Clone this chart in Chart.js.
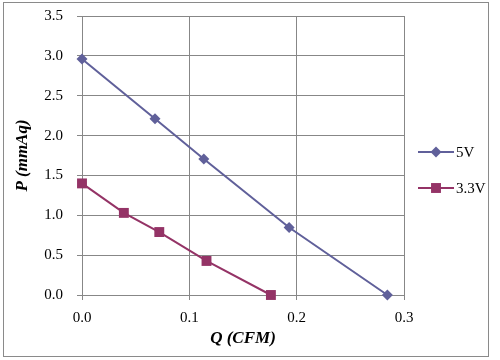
<!DOCTYPE html>
<html>
<head>
<meta charset="utf-8">
<script src="https://cdn.jsdelivr.net/npm/chart.js@4/dist/chart.umd.min.js"></script>
<style>
html,body{margin:0;padding:0;background:#fff;}
#wrap{position:absolute;left:0;top:0;width:500px;height:360px;}
</style>
</head>
<body>
<div id="wrap"><canvas id="c" width="500" height="360"></canvas></div>
<script>
// Data
const seriesNames = ["5V", "3.3V"];
const q5V  = [0, 0.068, 0.1135, 0.193, 0.2845];
const p5V  = [2.96, 2.21, 1.705, 0.846, 0];
const q33V = [0, 0.039, 0.072, 0.116, 0.176];
const p33V = [1.40, 1.03, 0.79, 0.427, 0];
const xTickValues = [0, 0.1, 0.2, 0.3];
const yTickValues = [0, 0.5, 1.0, 1.5, 2.0, 2.5, 3.0, 3.5];
const xTitle = "Q (CFM)";
const yTitle = "P (mmAq)";

const colors = ["#60609a", "#943366"];
const markers = ["rectRot", "rect"];
const markerRadius = [5.5, 7];

function pts(xs, ys){ return xs.map((x,i)=>({x:x, y:ys[i]})); }

const serif = "'Liberation Serif','Times New Roman',serif";
const grid = "#878787";

const frameAndLegend = {
  id: 'frameAndLegend',
  beforeDraw(chart){
    const ctx = chart.ctx;
    ctx.save();
    ctx.fillStyle = '#fff';
    ctx.fillRect(0,0,chart.width,chart.height);
    ctx.restore();
  },
  afterDraw(chart){
    const ctx = chart.ctx;
    ctx.save();
    ctx.strokeStyle = '#8a8a8a';
    ctx.lineWidth = 1;
    ctx.strokeRect(3.5, 2.5, 485, 354);
    // legend
    const startX = 418, endX = 454, rowY = [152, 188];
    chart.data.datasets.forEach((ds, i) => {
      const y = rowY[i];
      ctx.strokeStyle = ds.borderColor;
      ctx.lineWidth = 2;
      ctx.beginPath();
      ctx.moveTo(startX, y); ctx.lineTo(endX, y);
      ctx.stroke();
      ctx.fillStyle = ds.pointBackgroundColor;
      const r = ds.pointRadius;
      const cx = (startX+endX)/2;
      ctx.beginPath();
      if (ds.pointStyle === 'rect') {
        const s = r * Math.SQRT1_2;
        ctx.fillRect(cx - s, y - s, 2*s, 2*s);
      } else {
        ctx.moveTo(cx, y - r); ctx.lineTo(cx + r, y); ctx.lineTo(cx, y + r); ctx.lineTo(cx - r, y); ctx.closePath();
        ctx.fill();
      }
      ctx.fillStyle = '#000';
      ctx.font = "15px " + serif;
      ctx.textBaseline = 'middle';
      ctx.textAlign = 'left';
      ctx.fillText(ds.label, endX + 2, y + 1);
    });
    ctx.restore();
  }
};

new Chart(document.getElementById('c'), {
  type: 'scatter',
  data: {
    datasets: [
      {label: seriesNames[0], data: pts(q5V, p5V), showLine: true, borderColor: colors[0], backgroundColor: colors[0],
       pointBackgroundColor: colors[0], pointBorderColor: colors[0], pointStyle: markers[0], pointRadius: markerRadius[0],
       pointBorderWidth: 0, borderWidth: 2, tension: 0, clip: false},
      {label: seriesNames[1], data: pts(q33V, p33V), showLine: true, borderColor: colors[1], backgroundColor: colors[1],
       pointBackgroundColor: colors[1], pointBorderColor: colors[1], pointStyle: markers[1], pointRadius: markerRadius[1],
       pointBorderWidth: 0, borderWidth: 2, tension: 0, clip: false}
    ]
  },
  options: {
    responsive: false,
    animation: false,
    devicePixelRatio: 1,
    layout: {padding: {left: 0, top: 16, right: 96, bottom: 0}},
    plugins: {legend: {display: false}, tooltip: {enabled: false}},
    scales: {
      x: {
        type: 'linear', min: 0, max: 0.3,
        afterFit(s){ s.height = 65; s.paddingLeft = 0; s.paddingRight = 0; },
        afterBuildTicks(s){ s.ticks = xTickValues.map(v => ({value: v})); },
        ticks: {color: '#000', font: {family: serif, size: 15}, padding: 9,
                callback: v => Number(v).toFixed(1), maxRotation: 0, autoSkip: false},
        grid: {color: grid, lineWidth: 1, tickLength: 5, drawTicks: true},
        border: {color: grid, width: 1},
        title: {display: true, text: xTitle, color: '#000',
                font: {family: serif, size: 17, weight: 'bold', style: 'italic'}, padding: {top: 0, bottom: 11}}
      },
      y: {
        type: 'linear', min: 0, max: 3.5,
        afterFit(s){ s.width = 82; s.paddingTop = 0; s.paddingBottom = 0; },
        afterBuildTicks(s){ s.ticks = yTickValues.map(v => ({value: v})); },
        ticks: {color: '#000', font: {family: serif, size: 15}, padding: 14,
                callback: v => Number(v).toFixed(1), autoSkip: false},
        grid: {color: grid, lineWidth: 1, tickLength: 5, drawTicks: true},
        border: {color: grid, width: 1},
        title: {display: true, text: yTitle, color: '#000',
                font: {family: serif, size: 17, weight: 'bold', style: 'italic'}, padding: {top: 12, bottom: 0}}
      }
    }
  },
  plugins: [frameAndLegend]
});
</script>
</body>
</html>
